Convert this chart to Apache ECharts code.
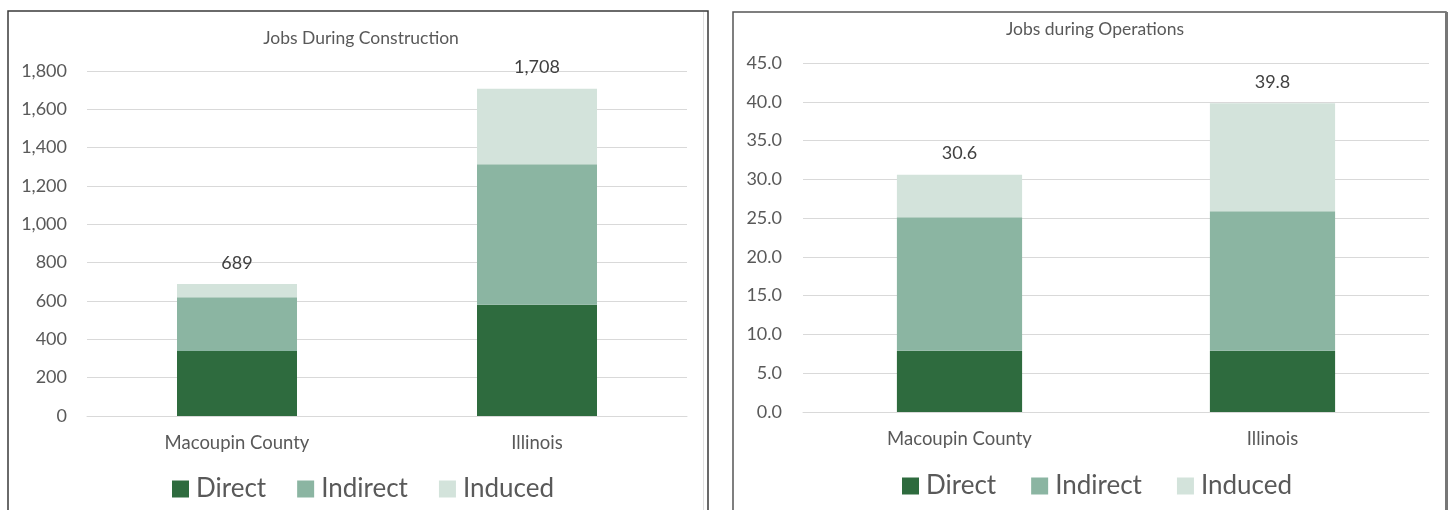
<!DOCTYPE html>
<html>
<head>
<meta charset="utf-8">
<script src="https://cdn.jsdelivr.net/npm/echarts@6/dist/echarts.min.js"></script>
<style>
html,body{margin:0;padding:0;background:#fff;}
#c{width:1448px;height:510px;}
</style>
</head>
<body>
<div id="c"></div>
<script>
const categories = ['Macoupin County', 'Illinois'];
const seriesNames = ['Direct', 'Indirect', 'Induced'];
const colors = ['#2E6B3E', '#8BB5A2', '#D3E3DB'];

const constructionDirect = [339, 581];
const constructionIndirect = [280, 733];
const constructionInduced = [70, 394];
const constructionTotals = [689, 1708];

const operationsDirect = [7.9, 7.9];
const operationsIndirect = [17.2, 18.0];
const operationsInduced = [5.5, 13.9];
const operationsTotals = [30.6, 39.8];

const constructionTicks = { min: 0, max: 1800, interval: 200 };
const operationsTicks = { min: 0, max: 45, interval: 5 };

const FONT = 'Lato, "Open Sans", sans-serif';
const TXT = '#595959';

function fmtComma(v) { return Math.round(v).toLocaleString('en-US'); }
function fmtOne(v) { return Number(v).toFixed(1); }

function makeSeries(gridIdx, arrays, totals, fmt) {
  return arrays.map((arr, i) => ({
    name: seriesNames[i],
    type: 'bar',
    stack: 'g' + gridIdx,
    xAxisIndex: gridIdx,
    yAxisIndex: gridIdx,
    barWidth: '40%',
    data: arr,
    itemStyle: { color: colors[i] },
    label: i === 2 ? {
      show: true, position: 'top', distance: 12,
      fontFamily: FONT, fontSize: 18, color: '#404040',
      formatter: p => fmt(totals[p.dataIndex])
    } : { show: false },
    emphasis: { disabled: true }
  }));
}

const chart = echarts.init(document.getElementById('c'), null, { renderer: 'canvas' });
chart.setOption({
  animation: false,
  backgroundColor: '#fff',
  title: [
    { text: 'Jobs During Construction', left: 356, top: 24, textAlign: 'center',
      textStyle: { fontFamily: FONT, fontSize: 17.5, fontWeight: 'normal', color: TXT } },
    { text: 'Jobs during Operations', left: 1090, top: 15, textAlign: 'center',
      textStyle: { fontFamily: FONT, fontSize: 17.5, fontWeight: 'normal', color: TXT } }
  ],
  legend: [
    { data: seriesNames, left: 167, top: 471, itemWidth: 17, itemHeight: 17, itemGap: 31,
      icon: 'rect', textStyle: { fontFamily: FONT, fontSize: 26, color: TXT, padding: [0,0,0,2] } },
    { data: seriesNames, left: 897, top: 468, itemWidth: 17, itemHeight: 17, itemGap: 35,
      icon: 'rect', textStyle: { fontFamily: FONT, fontSize: 26, color: TXT, padding: [0,0,0,2] } }
  ],
  grid: [
    { left: 87, right: 1448 - 687, top: 71, bottom: 510 - 416 },
    { left: 803, right: 1448 - 1429, top: 63, bottom: 510 - 412 }
  ],
  xAxis: [0, 1].map(i => ({
    type: 'category', gridIndex: i, data: categories,
    axisLine: { show: true, lineStyle: { color: '#D9D9D9' } },
    axisTick: { show: false },
    axisLabel: { fontFamily: FONT, fontSize: 18.5, color: TXT, margin: 18 }
  })),
  yAxis: [
    { type: 'value', gridIndex: 0, ...constructionTicks,
      axisLine: { show: false }, axisTick: { show: false },
      splitLine: { lineStyle: { color: '#D9D9D9' } },
      axisLabel: { fontFamily: FONT, fontSize: 18, color: TXT, margin: 20, formatter: fmtComma } },
    { type: 'value', gridIndex: 1, ...operationsTicks,
      axisLine: { show: false }, axisTick: { show: false },
      splitLine: { lineStyle: { color: '#D9D9D9' } },
      axisLabel: { fontFamily: FONT, fontSize: 18, color: TXT, margin: 21, formatter: fmtOne } }
  ],
  series: [
    ...makeSeries(0, [constructionDirect, constructionIndirect, constructionInduced], constructionTotals, fmtComma),
    ...makeSeries(1, [operationsDirect, operationsIndirect, operationsInduced], operationsTotals, fmtOne)
  ],
  graphic: [
    { type: 'rect', shape: { x: 8, y: 11, width: 700, height: 520 }, style: { fill: 'none', stroke: '#3a3a3a', lineWidth: 1.5 }, silent: true },
    { type: 'line', shape: { x1: 703.5, y1: 12, x2: 703.5, y2: 510 }, style: { stroke: '#E0E0E0', lineWidth: 1 }, silent: true },
    { type: 'rect', shape: { x: 733, y: 12, width: 713, height: 520 }, style: { fill: 'none', stroke: '#555', lineWidth: 1.5 }, silent: true },
    { type: 'line', shape: { x1: 1446.5, y1: 12, x2: 1446.5, y2: 510 }, style: { stroke: '#777', lineWidth: 3 }, silent: true }
  ]
});
</script>
</body>
</html>
